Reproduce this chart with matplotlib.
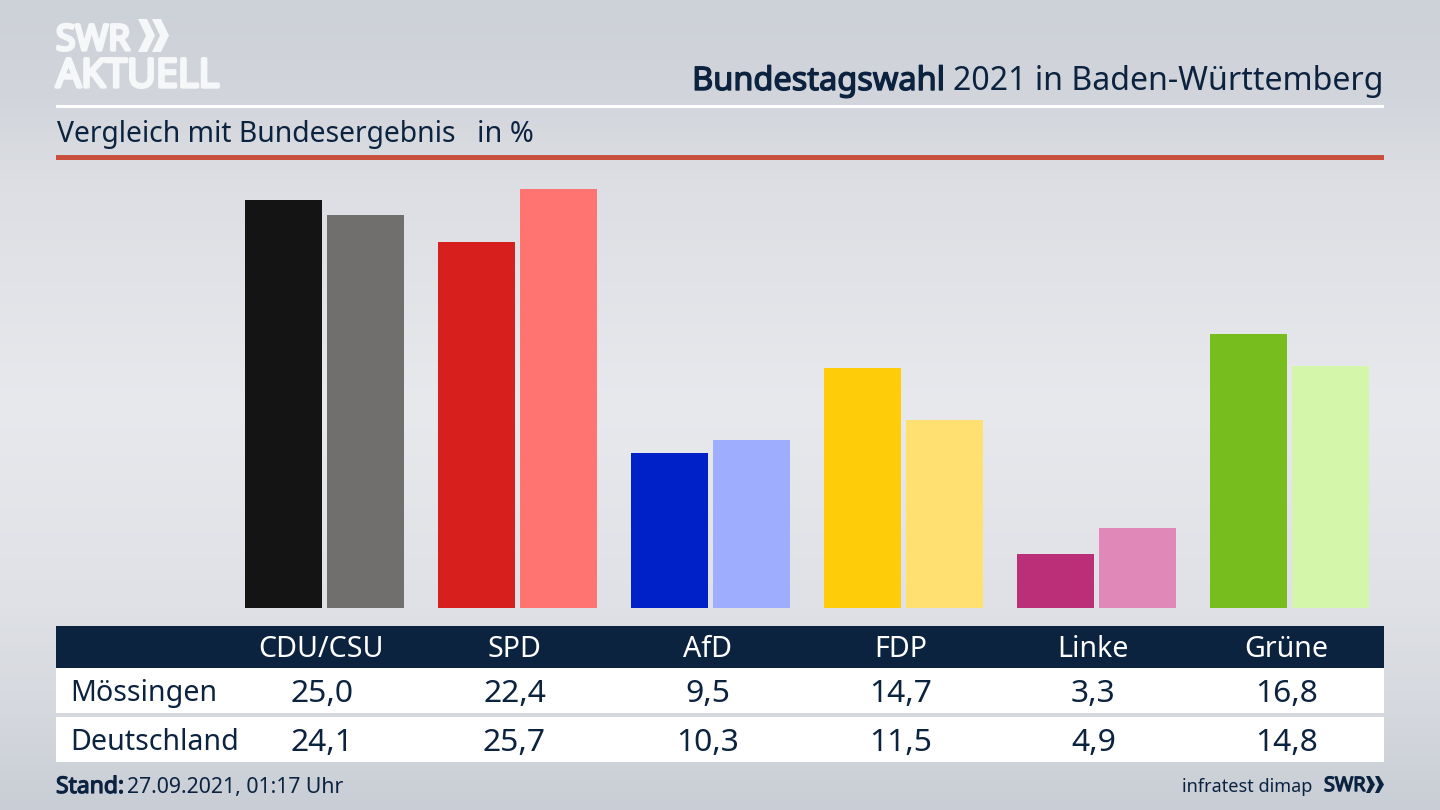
import matplotlib

matplotlib.use("Agg")
import matplotlib.pyplot as plt
import matplotlib.patheffects as pe
from matplotlib.colors import LinearSegmentedColormap
from matplotlib.patches import Polygon, Rectangle
import numpy as np

parties = ["CDU/CSU", "SPD", "AfD", "FDP", "Linke", "Grüne"]
moessingen = [25.0, 22.4, 9.5, 14.7, 3.3, 16.8]
deutschland = [24.1, 25.7, 10.3, 11.5, 4.9, 14.8]
colors_local = ["#141414", "#d71f1d", "#0021c8", "#ffcc0a", "#bb2f78", "#78bd1e"]
colors_national = ["#706f6d", "#ff7370", "#9fadff", "#ffe070", "#e088b8", "#d4f6aa"]

NAVY = "#0c2340"
LOGO = "#f6f7f8"
W, H = 1440, 810

plt.rcParams["font.family"] = ["Noto Sans", "DejaVu Sans"]


def fmt(v):
    return f"{v:.1f}".replace(".", ",")


def heavy(color, width):
    # the installed faces render too light for the bold parts, so thicken them
    return [pe.withStroke(linewidth=width, foreground=color)]


fig = plt.figure(figsize=(W / 100, H / 100), dpi=100)

# background gradient
bg = fig.add_axes([0, 0, 1, 1], zorder=0)
bg.axis("off")
cmap = LinearSegmentedColormap.from_list(
    "bg",
    [(0, "#cdd1d8"), (0.12, "#d2d5db"), (0.22, "#dcdee3"), (0.5, "#e8e9ed"), (0.75, "#dfe1e6"), (0.88, "#d5d8de"), (1, "#c9cdd5")],
)
bg.imshow(np.linspace(0, 1, 256).reshape(-1, 1), aspect="auto", cmap=cmap, extent=(0, W, H, 0))

# pixel overlay for header, table, footer
ov = fig.add_axes([0, 0, 1, 1], zorder=1)
ov.set_xlim(0, W)
ov.set_ylim(H, 0)
ov.axis("off")

ov.add_patch(Rectangle((56, 104.5), 1328, 3, color="white", lw=0))
ov.add_patch(Rectangle((56, 155), 1328, 5, color="#c8503c", lw=0))

# logo
ov.text(56, 50, "SWR", color=LOGO, fontsize=25.5, va="baseline", ha="left", family="Open Sans", path_effects=heavy(LOGO, 2.4))
ov.text(56, 87, "AKTUELL", color=LOGO, fontsize=28.5, va="baseline", ha="left", family="Open Sans", path_effects=heavy(LOGO, 2.4))
for x0 in (138, 152):
    ov.add_patch(Polygon([(x0, 19), (x0 + 9, 19), (x0 + 17, 35.5), (x0 + 9, 52), (x0, 52), (x0 + 8, 35.5)], color=LOGO, lw=0))

ov.text(953, 90, "2021 in Baden-Württemberg", color=NAVY, fontsize=23.1, va="baseline", ha="left")
ov.text(945, 90, "Bundestagswahl", color=NAVY, fontsize=23.4, va="baseline", ha="right", path_effects=heavy(NAVY, 1.0))
ov.text(57, 142, "Vergleich mit Bundesergebnis", color=NAVY, fontsize=20.4, va="baseline", ha="left")
ov.text(477, 142, "in %", color=NAVY, fontsize=20.8, va="baseline", ha="left")

# bars
ax = fig.add_axes([228 / W, 1 - 608 / H, 1158.5 / W, 448 / H], zorder=2)
ax.patch.set_alpha(0)
ax.set_xlim(-0.5, 5.5)
ax.set_ylim(0, 448 / 16.32)
ax.axis("off")
xs = np.arange(len(parties))
ax.bar(xs - 0.2124, moessingen, width=0.399, color=colors_local)
ax.bar(xs + 0.2124, deutschland, width=0.399, color=colors_national)

# table
ov.add_patch(Rectangle((56, 626), 1328, 42, color=NAVY, lw=0))
ov.add_patch(Rectangle((56, 668), 1328, 45, color="white", lw=0))
ov.add_patch(Rectangle((56, 717), 1328, 45, color="white", lw=0))
to_px = lambda i: 321.5 + 193 * i
for i, party in enumerate(parties):
    ov.text(to_px(i), 657, party, color="white", fontsize=20.6, va="baseline", ha="center")
    ov.text(to_px(i), 702, fmt(moessingen[i]), color=NAVY, fontsize=22.9, va="baseline", ha="center")
    ov.text(to_px(i), 751, fmt(deutschland[i]), color=NAVY, fontsize=22.9, va="baseline", ha="center")
ov.text(70, 701, "Mössingen", color=NAVY, fontsize=20.6, va="baseline", ha="left")
ov.text(70, 750, "Deutschland", color=NAVY, fontsize=20.6, va="baseline", ha="left")

# footer
ov.text(56, 793, "Stand:", color=NAVY, fontsize=16.5, va="baseline", ha="left", path_effects=heavy(NAVY, 0.9))
ov.text(127, 793, "27.09.2021, 01:17 Uhr", color=NAVY, fontsize=15.3, va="baseline", ha="left")
ov.text(1312, 792, "infratest dimap", color=NAVY, fontsize=13, va="baseline", ha="right")
ov.text(1324, 791, "SWR", color=NAVY, fontsize=14.3, va="baseline", ha="left", family="Open Sans", path_effects=heavy(NAVY, 1.0))
for x0 in (1366, 1375):
    ov.add_patch(Polygon([(x0, 776), (x0 + 4, 776), (x0 + 9, 784.5), (x0 + 4, 793), (x0, 793), (x0 + 4, 784.5)], color=NAVY, lw=0))

fig.savefig("out.png", dpi=100)
plt.close(fig)
